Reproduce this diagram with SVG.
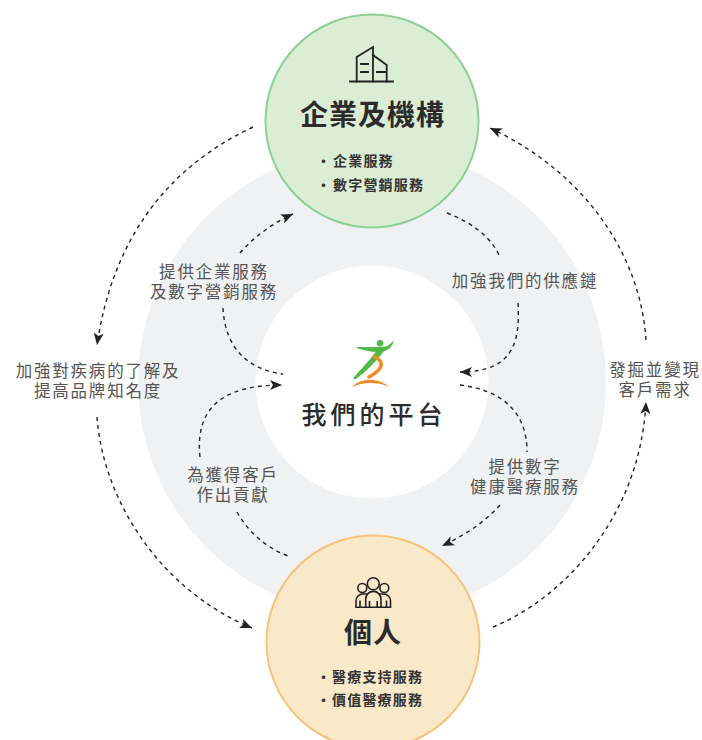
<svg xmlns="http://www.w3.org/2000/svg" width="702" height="740" viewBox="0 0 702 740">
<style>
.title{font-family:"Noto Sans CJK TC","Noto Sans CJK SC",sans-serif;font-weight:700;fill:#2b2b2b;text-anchor:middle}
.item{font-family:"Noto Sans CJK TC","Noto Sans CJK SC",sans-serif;font-weight:700;font-size:14px;letter-spacing:1.2px;fill:#333}
.dot{font-family:"Noto Sans CJK TC","Noto Sans CJK SC",sans-serif;font-weight:700;font-size:14px;fill:#333;text-anchor:middle}
.lbl{font-family:"Noto Sans CJK TC","Noto Sans CJK SC",sans-serif;font-weight:400;font-size:16.5px;letter-spacing:1.8px;fill:#555;text-anchor:middle}
.conn{fill:none;stroke:#222;stroke-width:1.4;stroke-dasharray:4 4}
.icon{fill:none;stroke:#222;stroke-width:1.8;stroke-linecap:square}
</style>
<defs>
<marker id="ah" viewBox="0 0 12 10" refX="12" refY="5" markerWidth="12" markerHeight="10" markerUnits="userSpaceOnUse" orient="auto">
<path d="M0,0 L12,5 L0,10 L3,5 Z" fill="#222"/>
</marker>
</defs>
<rect width="702" height="740" fill="#fff"/>
<g id="ring">
<circle cx="372" cy="382" r="234" fill="#f0f1f3"/>
<circle cx="372" cy="382" r="116.5" fill="#fff"/>
</g>
<g id="connectors">
<path class="conn" d="M253,127 Q120,190 97,345" marker-end="url(#ah)"/>
<path class="conn" d="M97,417 C103,500 160,590 252,628" marker-end="url(#ah)"/>
<path class="conn" d="M493,627 C560,600 640,520 646,402" marker-end="url(#ah)"/>
<path class="conn" d="M646,340 C640,250 580,170 490,128" marker-end="url(#ah)"/>
<path class="conn" d="M240,253 Q262,228 293,214" marker-end="url(#ah)"/>
<path class="conn" d="M223,308 C225,350 250,370 283,374"/>
<path class="conn" d="M200,457 C195,410 220,385 282,385" marker-end="url(#ah)"/>
<path class="conn" d="M237,512 C250,535 270,550 291,557"/>
<path class="conn" d="M447,213 C470,222 490,235 500,257"/>
<path class="conn" d="M518,303 C520,340 515,372 460,372" marker-end="url(#ah)"/>
<path class="conn" d="M460,385 C500,390 527,410 527,452"/>
<path class="conn" d="M500,505 C485,522 465,535 442,546" marker-end="url(#ah)"/>
</g>
<g id="labels">
<text class="lbl" x="214" y="278">提供企業服務<tspan x="214" dy="20">及數字營銷服務</tspan></text>
<text class="lbl" x="98" y="377">加強對疾病的了解及<tspan x="98" dy="20">提高品牌知名度</tspan></text>
<text class="lbl" x="525" y="287">加強我們的供應鏈</text>
<text class="lbl" x="655" y="376">發掘並變現<tspan x="655" dy="20">客戶需求</tspan></text>
<text class="lbl" x="233" y="481">為獲得客戶<tspan x="233" dy="20">作出貢獻</tspan></text>
<text class="lbl" x="525" y="473">提供數字<tspan x="525" dy="20">健康醫療服務</tspan></text>
</g>
<g id="node-enterprise">
<circle cx="372" cy="121" r="106.5" fill="#dcedd6" stroke="#8ccf97" stroke-width="2"/>
<g class="icon">
<path d="M350,81.5 H393"/>
<path d="M356.7,81.5 V57 L373,47 V81.5"/>
<path d="M373,55 L386.7,65 V81.5"/>
<path d="M361,64 H368 M361,72 H368 M377,72 H385"/>
</g>
<text class="title" x="372.5" y="125" font-size="28" letter-spacing="1">企業及機構</text>
<text class="dot" x="323.5" y="166">·</text>
<text class="item" x="333" y="166">企業服務</text>
<text class="dot" x="323.5" y="190">·</text>
<text class="item" x="333" y="190">數字營銷服務</text>
</g>
<g id="node-individual">
<circle cx="373" cy="642" r="106.5" fill="#f9e9c9" stroke="#f6c27c" stroke-width="2"/>
<g fill="#f9e9c9" stroke="#222" stroke-width="1.6">
<path d="M356,607.3 V601 A7,7 0 0 1 363,594 H368 V607.3 Z"/>
<path d="M390.5,607.3 V601 A7,7 0 0 0 383.5,594 H378.5 V607.3 Z"/>
<path d="M360,600.5 V607.3 M386.5,600.5 V607.3" fill="none"/>
<circle cx="362.3" cy="588" r="4.5"/>
<circle cx="384.3" cy="588" r="4.5"/>
<path d="M365.7,607.3 V599 A7.65,7.65 0 0 1 381,599 V607.3 Z"/>
<path d="M369.5,601 V607.3 M377.2,601 V607.3" fill="none"/>
<circle cx="373.3" cy="583.7" r="6"/>
</g>
<text class="title" x="373" y="643" font-size="28" letter-spacing="1">個人</text>
<text class="dot" x="323.5" y="682">·</text>
<text class="item" x="332" y="682">醫療支持服務</text>
<text class="dot" x="323.5" y="705">·</text>
<text class="item" x="332" y="705">價值醫療服務</text>
</g>
<g id="node-platform">
<g id="logo">
<path d="M355,347.5 C365,346 378,348 386,346.5 C389,345.5 391,343 394,340.5 C393,344 391,348 386,350.5 C378,354 366,351 355,347.5 Z" fill="#52b947"/>
<path d="M377,350 L384,351 C376,362 366,372 355,379.5 L353,378.5 C360,370 370,360 377,350 Z" fill="#52b947"/>
<circle cx="380" cy="343.3" r="3.3" fill="#52b947"/>
<path d="M374,356.5 C380,359 383,363 380,368 C378,372 374,374 369,377" fill="none" stroke="#f08a24" stroke-width="3.5" stroke-linecap="round"/>
<path d="M352,387 C360,379 375,376 389,386.5 C376,381.5 363,382 352,387 Z" fill="#f08a24"/>
</g>
<text class="title" x="374" y="424" font-size="25" letter-spacing="4" style="font-weight:500">我們的平台</text>
</g>
</svg>
